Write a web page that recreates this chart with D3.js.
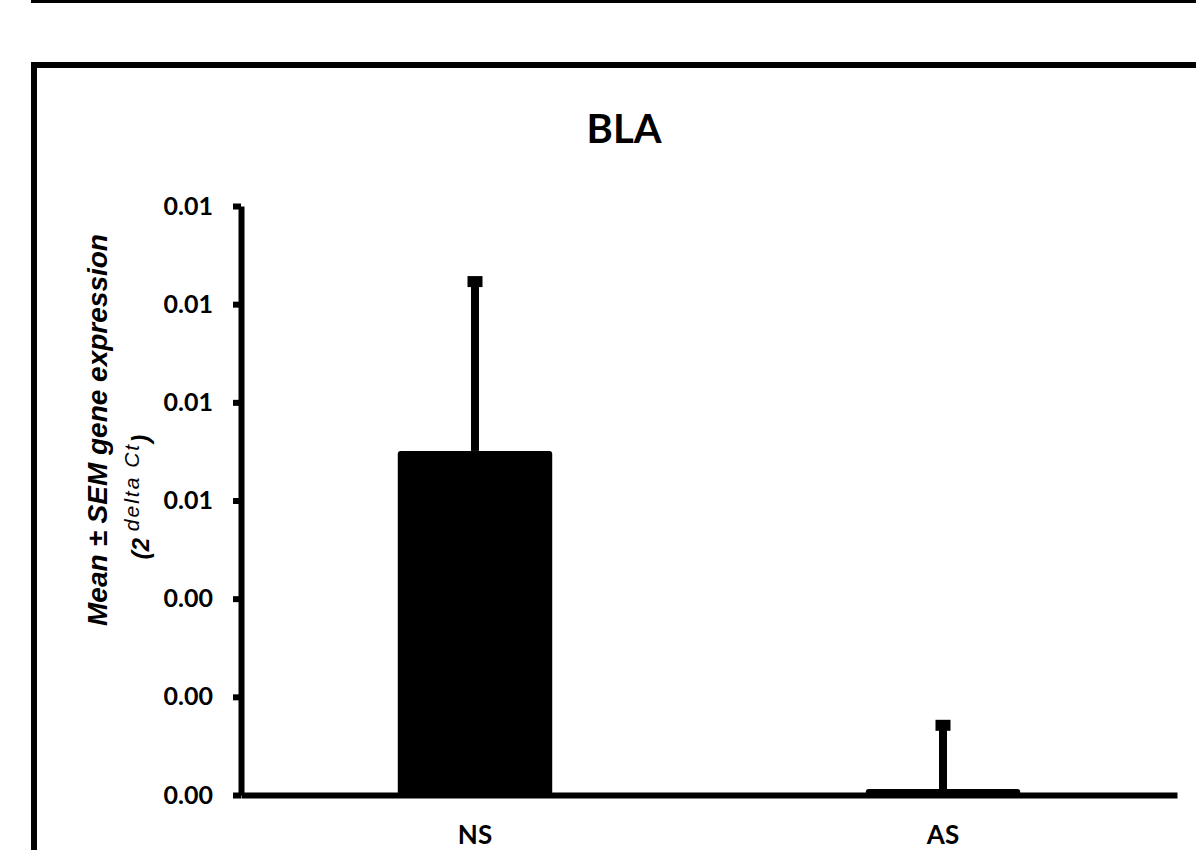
<!DOCTYPE html>
<html>
<head>
<meta charset="utf-8">
<script src="https://cdn.jsdelivr.net/npm/d3@7"></script>
<style>
  html, body { margin: 0; padding: 0; background: #fff; overflow: hidden; }
</style>
</head>
<body>
<div id="d3chart"></div>
<script>
// data
var groups = ["NS", "AS"];
var means = [0.00701, 0.00012];
var sems = [0.00345, 0.00130];
var yTicks = [0, 0.002, 0.004, 0.006, 0.008, 0.010, 0.012];
var chartTitle = "BLA";

var width = 1196;
var height = 850;

var svg = d3.select("#d3chart")
    .append("svg")
    .attr("width", width)
    .attr("height", height);

// bottom edge of the panel above
svg.append("rect")
    .attr("x", 34)
    .attr("y", -1000)
    .attr("width", 1400)
    .attr("height", 1000)
    .attr("fill", "none")
    .attr("stroke", "#000")
    .attr("stroke-width", 6);

// frame of this panel
svg.append("rect")
    .attr("x", 34)
    .attr("y", 65)
    .attr("width", 1400)
    .attr("height", 1000)
    .attr("fill", "none")
    .attr("stroke", "#000")
    .attr("stroke-width", 6);

var y = d3.scaleLinear()
    .domain([0, 0.012])
    .range([795, 206]);

var x = d3.scaleBand()
    .domain(groups)
    .range([241, 1177])
    .paddingInner(0.67)
    .paddingOuter(0.335);

svg.append("text")
    .attr("x", 624)
    .attr("y", 143)
    .attr("text-anchor", "middle")
    .style("font-family", "Lato, sans-serif")
    .style("font-weight", "bold")
    .style("font-size", "40px")
    .text(chartTitle);

// bars
svg.selectAll(".bar")
    .data(groups)
    .enter()
    .append("rect")
    .attr("class", "bar")
    .attr("x", function (d) { return x(d); })
    .attr("y", function (d, i) { return y(means[i]); })
    .attr("width", x.bandwidth())
    .attr("height", function (d, i) { return y(0) - y(means[i]); })
    .attr("rx", 3)
    .attr("fill", "#000");

// error bars (upper only)
svg.selectAll(".err")
    .data(groups)
    .enter()
    .append("rect")
    .attr("class", "err")
    .attr("x", function (d) { return x(d) + x.bandwidth() / 2 - 4; })
    .attr("y", function (d, i) { return y(means[i] + sems[i]); })
    .attr("width", 8)
    .attr("height", function (d, i) { return y(means[i]) - y(means[i] + sems[i]); })
    .attr("fill", "#000");

svg.selectAll(".cap")
    .data(groups)
    .enter()
    .append("rect")
    .attr("class", "cap")
    .attr("x", function (d) { return x(d) + x.bandwidth() / 2 - 7.5; })
    .attr("y", function (d, i) { return y(means[i] + sems[i]) - 5.5; })
    .attr("width", 15)
    .attr("height", 11)
    .attr("fill", "#000");

// axes
var yAxis = svg.append("g")
    .attr("transform", "translate(241,0)")
    .call(d3.axisLeft(y)
        .tickValues(yTicks)
        .tickFormat(d3.format(".2f"))
        .tickSize(8)
        .tickSizeOuter(0)
        .tickPadding(20));

yAxis.select(".domain").attr("stroke-width", 6);
yAxis.selectAll(".tick line").attr("stroke-width", 6);
yAxis.selectAll("text")
    .style("font-family", "Lato, sans-serif")
    .style("font-weight", "bold")
    .style("font-size", "25px")
    .attr("fill", "#000");

var xAxis = svg.append("g")
    .attr("transform", "translate(0,795)")
    .call(d3.axisBottom(x)
        .tickSize(0)
        .tickSizeOuter(0)
        .tickPadding(31));

xAxis.select(".domain").attr("stroke-width", 6);
xAxis.selectAll("text")
    .style("font-family", "Lato, sans-serif")
    .style("font-weight", "bold")
    .style("font-size", "26px")
    .attr("fill", "#000");

// y label, two lines
svg.append("text")
    .attr("transform", "translate(107,430) rotate(-90)")
    .attr("text-anchor", "middle")
    .style("font-family", "'Liberation Sans', Arial, sans-serif")
    .style("font-weight", "bold")
    .style("font-style", "italic")
    .style("font-size", "28px")
    .text("Mean \u00b1 SEM gene expression");

var sub = svg.append("text")
    .attr("transform", "translate(149,497) rotate(-90)")
    .attr("text-anchor", "middle")
    .style("font-family", "'Liberation Sans', Arial, sans-serif")
    .style("font-weight", "bold")
    .style("font-style", "italic")
    .style("font-size", "24px");

sub.append("tspan").text("(2 ");
sub.append("tspan")
    .attr("dy", -10)
    .style("font-size", "21px")
    .style("font-weight", "normal")
    .style("letter-spacing", "2px")
    .text("delta Ct");
sub.append("tspan")
    .attr("dy", 10)
    .text(")");
</script>
</body>
</html>
